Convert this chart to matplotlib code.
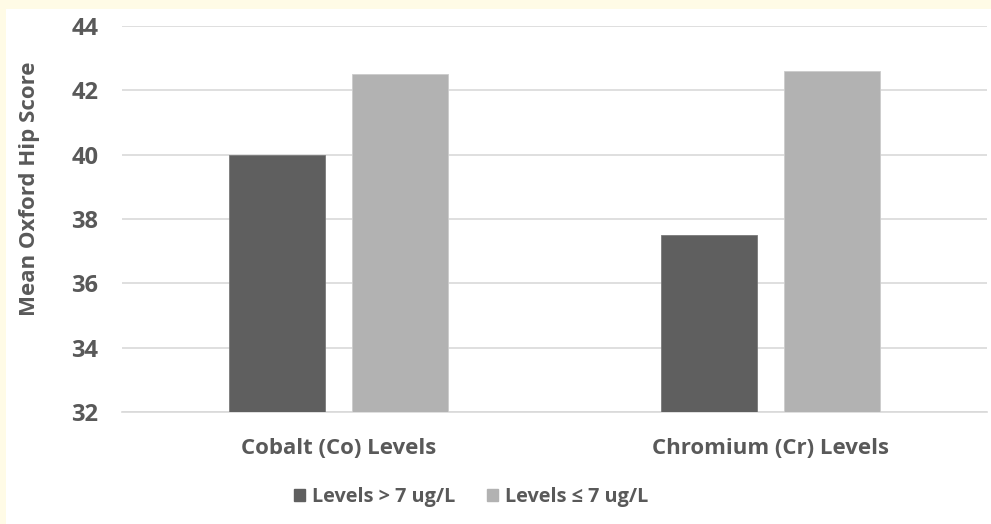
import matplotlib.pyplot as plt
import matplotlib.patches as mpatches
import numpy as np

plt.rcParams.update({
    "font.family": ["Open Sans", "DejaVu Sans"],
    "font.weight": "bold",
    "axes.labelweight": "bold",
})

categories = ["Cobalt (Co) Levels", "Chromium (Cr) Levels"]
series_names = ["Levels > 7 ug/L", "Levels \u2264 7 ug/L"]
above_7 = [40.0, 37.5]
below_7 = [42.5, 42.6]
y_ticks = [32, 34, 36, 38, 40, 42, 44]

DARK = "#5f5f5f"
LIGHT = "#b2b2b2"
TEXT = "#595959"
GRID = "#d9d9d9"
CREAM = "#fffbe6"

fig = plt.figure(figsize=(9.91, 5.24), dpi=100, facecolor=CREAM)
# white chart area, offset like the screenshot
fig.patches.append(mpatches.Rectangle((6 / 991, 0), 1, 1 - 9 / 524,
                                      transform=fig.transFigure,
                                      facecolor="white", edgecolor="none",
                                      zorder=-10))

ax = fig.add_axes([122 / 991, 1 - 412 / 524, 865 / 991, 386 / 524])
ax.set_facecolor("white")

x = np.arange(len(categories))
w = 0.222
off = 0.142
ax.bar(x - off, np.array(above_7) - 32, w, bottom=32, color=DARK,
       edgecolor="#7a7a7a", linewidth=0.6, zorder=3)
ax.bar(x + off, np.array(below_7) - 32, w, bottom=32, color=LIGHT,
       edgecolor="#cccccc", linewidth=0.6, zorder=3)

ax.set_xlim(-0.5, 1.5)
ax.set_ylim(32, 44)
ax.set_yticks(y_ticks)
ax.set_yticklabels([str(t) for t in y_ticks])
ax.set_xticks(x)
ax.set_xticklabels(categories)
ax.grid(axis="y", color=GRID, linewidth=1.2, zorder=0)
for s in ["top", "right", "left"]:
    ax.spines[s].set_visible(False)
ax.spines["bottom"].set_color(GRID)
ax.spines["bottom"].set_linewidth(1.2)
ax.tick_params(axis="both", length=0, colors=TEXT)
ax.tick_params(axis="y", pad=17, labelsize=17)
ax.tick_params(axis="x", pad=19, labelsize=16)

fig.text(30 / 991, 1 - 189 / 524, "Mean Oxford Hip Score", rotation=90,
         ha="center", va="center", fontsize=16, color=TEXT, fontweight="bold")

handles = [mpatches.Patch(color=DARK, label=series_names[0]),
           mpatches.Patch(color=LIGHT, label=series_names[1])]
leg = fig.legend(handles=handles, loc="center", ncol=2,
                 bbox_to_anchor=(471 / 991, 1 - 497 / 524), frameon=False,
                 fontsize=14.3, handlelength=0.55, handleheight=0.55,
                 handletextpad=0.35, columnspacing=1.6)
for t in leg.get_texts():
    t.set_color(TEXT)

fig.savefig("out.png", dpi=100, facecolor=CREAM)
